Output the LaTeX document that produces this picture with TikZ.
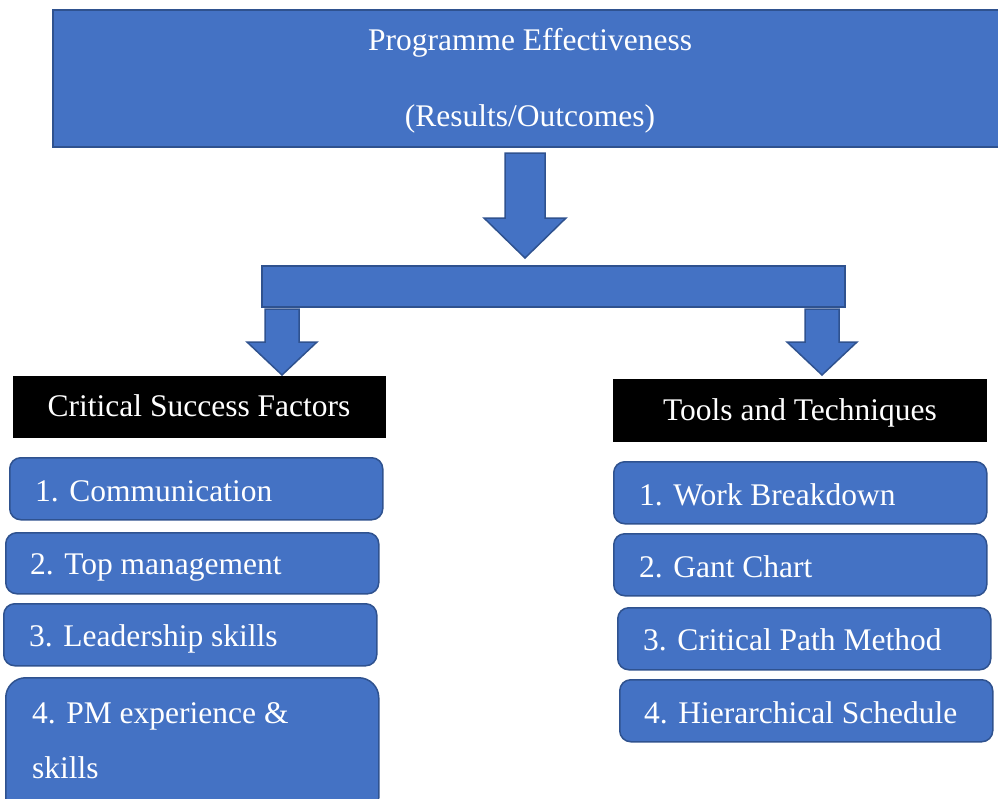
\documentclass[tikz,border=0pt]{standalone}
\usepackage{fontspec}
\setmainfont{Liberation Serif}
\definecolor{fillblue}{HTML}{4472C4}
\definecolor{edgeblue}{HTML}{2F528F}
\begin{document}
\begin{tikzpicture}[x=1pt,y=1pt,
  bluebox/.style={draw=edgeblue, fill=fillblue, line width=1.5pt, rectangle,
    inner sep=0pt, anchor=north west},
  roundbox/.style={bluebox, rounded corners=11pt},
  headbox/.style={fill=black, draw=none, rectangle, inner sep=0pt, anchor=north west},
  label/.style={text=white, font=\fontsize{31.5}{38}\selectfont, inner sep=0pt},
  arrowbody/.style={draw=edgeblue, fill=fillblue, line width=1.5pt, line join=miter},
  pics/downarrow/.style n args={4}{code={
    \draw[arrowbody] (-#1,0) -- (#1,0) -- (#1,-#3) -- (#2,-#3) -- (0,-#4)
      -- (-#2,-#3) -- (-#1,-#3) -- cycle;}}]
\useasboundingbox (0,0) rectangle (998,-798);

% top goal box
\node[bluebox, minimum width=960, minimum height=137] (goal) at (52,-9) {};
\node[label, anchor=base] (goalA) at (530,-50) {Programme Effectiveness};
\node[label, anchor=base] (goalB) at (530,-126) {(Results/Outcomes)};

% main arrow and splitting bar
\pic at (525,-153) {downarrow={20}{41}{65}{105}};
\node[bluebox, minimum width=583, minimum height=41] (bar) at (261,-265) {};

% arrows to the two branches
\pic at (282,-309) {downarrow={17}{35}{33}{66}};
\pic at (822,-309) {downarrow={17}{35}{33}{66}};

% branch headings
\node[headbox, minimum width=373, minimum height=62] (csf) at (13,-376) {};
\node[label, anchor=base] (csfT) at (199,-416) {Critical Success Factors};
\node[headbox, minimum width=374, minimum height=63] (tt) at (613,-379) {};
\node[label, anchor=base] (ttT) at (800,-420) {Tools and Techniques};

% critical success factors
\node[roundbox, minimum width=373, minimum height=62] (c1) at (9,-457) {};
\node[label, anchor=base west] (c1T) at (35,-501) {1. Communication};
\node[roundbox, minimum width=373, minimum height=61] (c2) at (5,-532) {};
\node[label, anchor=base west] (c2T) at (30,-574) {2. Top management};
\node[roundbox, minimum width=373, minimum height=62] (c3) at (3,-603) {};
\node[label, anchor=base west] (c3T) at (29,-646) {3. Leadership skills};
\node[bluebox, rounded corners=20pt, minimum width=373, minimum height=140] (c4) at (5,-677) {};
\node[label, anchor=base west] (c4T) at (32,-723) {4. PM experience \&};
\node[label, anchor=base west] (c4U) at (32,-778) {skills};

% tools and techniques
\node[roundbox, minimum width=373, minimum height=62] (t1) at (613,-461) {};
\node[label, anchor=base west] (t1T) at (639,-505) {1. Work Breakdown};
\node[roundbox, minimum width=373, minimum height=62] (t2) at (613,-533) {};
\node[label, anchor=base west] (t2T) at (639,-577) {2. Gant Chart};
\node[roundbox, minimum width=373, minimum height=62] (t3) at (617,-607) {};
\node[label, anchor=base west] (t3T) at (643,-650) {3. Critical Path Method};
\node[roundbox, minimum width=373, minimum height=62] (t4) at (619,-679) {};
\node[label, anchor=base west] (t4T) at (644,-723) {4. Hierarchical Schedule};
\end{tikzpicture}
\end{document}
